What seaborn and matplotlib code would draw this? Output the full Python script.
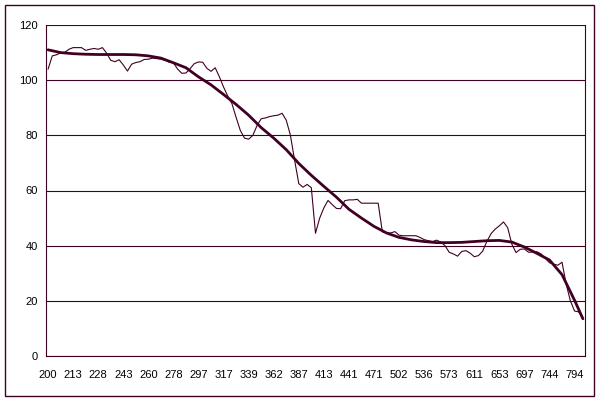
import matplotlib
matplotlib.use("Agg")
import matplotlib.pyplot as plt
from matplotlib.patches import Rectangle
import seaborn as sns
import pandas as pd

sns.set_style("white")
plt.rcParams['font.family'] = ['Liberation Sans', 'DejaVu Sans']

# category labels shown on the x axis (one every 6 points)
x_labels = ['200', '213', '228', '243', '260', '278', '297', '317', '339', '362', '387',
            '413', '441', '471', '502', '536', '573', '611', '653', '697', '744', '794']
label_step = 6

# measured series (thin line), one value per category
measured = [104, 108.8, 109.2, 109.9, 110.1, 111.2, 111.8, 111.8, 111.8, 110.8,
            111.2, 111.5, 111.2, 111.8, 109.8, 107.2, 106.7, 107.4, 105.5, 103.3,
            105.8, 106.4, 106.7, 107.5, 107.6, 108, 107.8, 107.6, 107.2, 106.5,
            106.3, 104, 102.5, 102.6, 104.2, 106, 106.6, 106.5, 104.3, 103.2,
            104.5, 101.2, 97.5, 94.2, 91.5, 86.5, 81.8, 79, 78.6, 80,
            83.5, 86, 86.3, 86.8, 87.1, 87.3, 88, 85.5, 80, 71,
            62.5, 61.2, 62.2, 61, 44.5, 50, 53.7, 56.4, 54.9, 53.5,
            53.4, 56.3, 56.6, 56.6, 56.8, 55.4, 55.4, 55.4, 55.4, 55.4,
            45, 44.7, 44.6, 45.1, 43.8, 43.6, 43.6, 43.6, 43.6, 43,
            42.2, 41.8, 41.5, 42, 41.3, 40, 37.6, 37, 36.2, 37.9,
            38.2, 37.3, 36, 36.4, 38, 41.5, 44.3, 46, 47.2, 48.6,
            46.5, 40.5, 37.5, 38.7, 38.8, 37.6, 37.7, 37.8, 37, 35.4,
            33.8, 33.3, 32.9, 34, 26, 20, 16.3, 16, 13.6]

# smooth trend (thick line), read every 3 categories plus the last one
trend_idx = list(range(0, 127, 3)) + [128]
trend = [111, 110, 109.6, 109.4, 109.3, 109.3, 109.3, 109.2, 108.8, 108,
         106.3, 104.5, 101.2, 98.3, 94.8, 91.2, 87.3, 82.8, 79, 74.8,
         69.8, 65.5, 61.5, 57.6, 53.2, 50, 47, 44.6, 43, 42.1,
         41.5, 41.1, 41.1, 41.2, 41.5, 41.8, 41.9, 41.3, 39.5, 37.2,
         34.8, 29.5, 20.2, 13.5]

col = '#400024'
n = len(measured)
df_m = pd.DataFrame({'i': range(n), 'v': measured})
df_t = pd.DataFrame({'i': trend_idx, 'v': trend})

fig = plt.figure(figsize=(6, 4), dpi=100)
ax = fig.add_axes([46 / 600, 1 - 356 / 400, 539 / 600, 331 / 400])

sns.lineplot(data=df_m, x='i', y='v', ax=ax, color=col, linewidth=0.8)
sns.lineplot(data=df_t, x='i', y='v', ax=ax, color=col, linewidth=2.0)

ax.set_xlim(-0.5, n - 0.5)
ax.set_ylim(0, 120)
ax.set_yticks(range(0, 121, 20))
ax.yaxis.grid(True, color=col, linewidth=0.8)
ax.set_axisbelow(True)

ax.set_xticks([k * label_step for k in range(len(x_labels))])
ax.set_xticklabels(x_labels)
ax.set_xticks([j * 3 - 0.5 for j in range(n // 3 + 1)], minor=True)
ax.tick_params(axis='x', which='major', length=0, pad=10, labelsize=8, colors='black')
ax.tick_params(axis='x', which='minor', length=4, width=0.8, color=col, direction='out')
ax.tick_params(axis='y', length=4, width=0.8, color=col, direction='out', pad=2,
               labelsize=8, labelcolor='black')
ax.set_xlabel('')
ax.set_ylabel('')

for s in ['left', 'bottom', 'right']:
    ax.spines[s].set_color(col)
    ax.spines[s].set_linewidth(0.8)
ax.spines['top'].set_visible(False)

fig.patches.append(Rectangle((5 / 600, 4 / 400), 589 / 600, 391 / 400,
                             transform=fig.transFigure, fill=False,
                             edgecolor=col, linewidth=1.0))

fig.savefig('out.png', dpi=100)
